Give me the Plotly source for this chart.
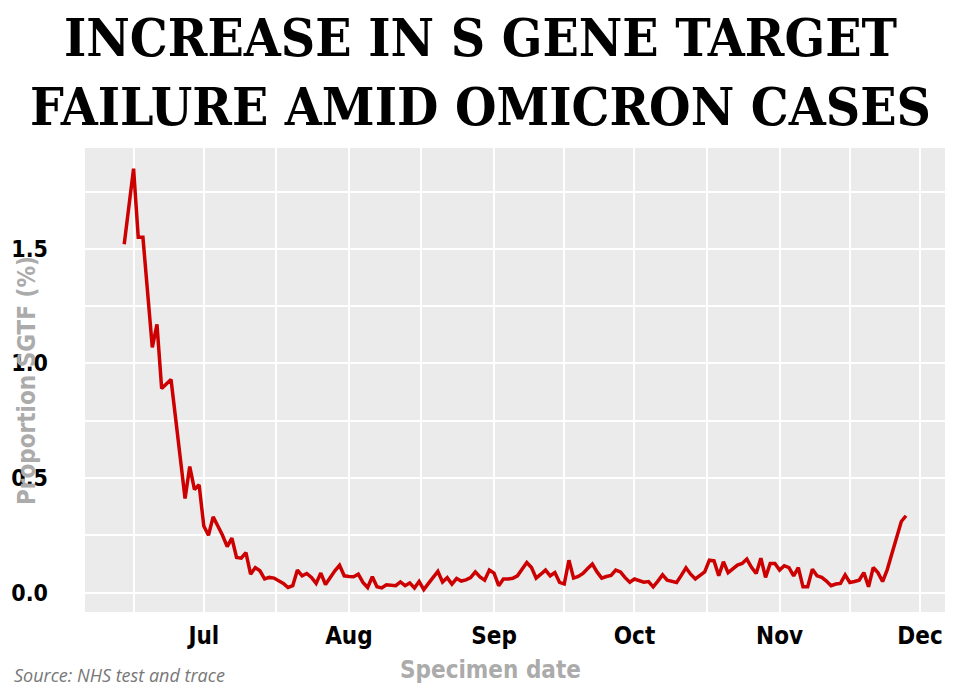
import plotly.graph_objects as go
import pandas as pd

start_date = "2021-06-14"
sgtf_pct = [
    1.52, 1.69, 1.85, 1.55, 1.55, 1.31, 1.07, 1.17, 0.89, 0.91,
    0.93, 0.757, 0.583, 0.41, 0.55, 0.45, 0.47, 0.29, 0.25, 0.33,
    0.29, 0.25, 0.20, 0.237, 0.153, 0.15, 0.174, 0.08, 0.109, 0.095,
    0.059, 0.066, 0.063, 0.05, 0.04, 0.022, 0.03, 0.098, 0.073, 0.083,
    0.066, 0.04, 0.085, 0.035, 0.068, 0.095, 0.119, 0.073, 0.07, 0.069,
    0.08, 0.044, 0.022, 0.069, 0.025, 0.02, 0.034, 0.032, 0.03, 0.046,
    0.03, 0.042, 0.02, 0.048, 0.013, 0.04, 0.065, 0.092, 0.046, 0.065,
    0.037, 0.061, 0.05, 0.055, 0.065, 0.09, 0.068, 0.054, 0.098, 0.085,
    0.03, 0.059, 0.059, 0.062, 0.073, 0.10, 0.131, 0.109, 0.063, 0.08,
    0.098, 0.073, 0.087, 0.044, 0.037, 0.141, 0.063, 0.07, 0.083, 0.105,
    0.124, 0.09, 0.063, 0.07, 0.075, 0.098, 0.09, 0.065, 0.045, 0.059,
    0.052, 0.045, 0.048, 0.025, 0.05, 0.077, 0.054, 0.05, 0.044, 0.075,
    0.108, 0.08, 0.059, 0.075, 0.09, 0.141, 0.138, 0.073, 0.134, 0.087,
    0.105, 0.12, 0.127, 0.146, 0.11, 0.083, 0.15, 0.066, 0.127, 0.127,
    0.098, 0.117, 0.109, 0.073, 0.109, 0.025, 0.025, 0.102, 0.073, 0.066,
    0.05, 0.03, 0.037, 0.04, 0.077, 0.044, 0.048, 0.054, 0.087, 0.025,
    0.109, 0.087, 0.048, 0.10, 0.17, 0.24, 0.31, 0.335,
]
dates = pd.date_range(start_date, periods=len(sgtf_pct), freq="D")

x_tick_vals = ["2021-07-01", "2021-08-01", "2021-09-01", "2021-10-01", "2021-11-01", "2021-12-01"]
x_tick_text = ["Jul", "Aug", "Sep", "Oct", "Nov", "Dec"]
x_minor_vals = ["2021-06-16", "2021-07-16 12:00", "2021-08-16 12:00", "2021-09-16",
                "2021-10-16 12:00", "2021-11-16"]
y_tick_vals = [0, 0.5, 1.0, 1.5]
y_tick_text = ["0.0", "0.5", "1.0", "1.5"]
y_minor_vals = [0.25, 0.75, 1.25, 1.75]

title_lines = ["INCREASE IN S GENE TARGET", "FAILURE AMID OMICRON CASES"]
x_title = "Specimen date"
y_title = "Proportion SGTF (%)"
source = "Source: NHS test and trace"

NARROW = "Liberation Sans Narrow, DejaVu Sans Condensed, Roboto, sans-serif"
TITLE_FONT = "DejaVu Serif Condensed, DejaVu Serif, serif"

fig = go.Figure()
fig.add_trace(go.Scatter(
    x=dates, y=sgtf_pct, mode="lines",
    line=dict(color="#CC0000", width=3.5),
    hoverinfo="skip", showlegend=False,
))

L, R, T, B = 85, 15, 148, 79
W, H = 960, 691
pw, ph = W - L - R, H - T - B

def px(xp):
    return (xp - L) / pw

def py(yp):
    return (H - B - yp) / ph

fig.update_layout(
    width=W, height=H,
    margin=dict(l=L, r=R, t=T, b=B, autoexpand=False),
    paper_bgcolor="white",
    plot_bgcolor="#EBEBEB",
    xaxis=dict(
        type="date", automargin=False,
        range=["2021-06-05 15:00", "2021-12-06 08:00"],
        tickmode="array", tickvals=x_tick_vals, ticktext=x_tick_text,
        showgrid=True, gridcolor="white", gridwidth=2,
        minor=dict(tickvals=x_minor_vals, showgrid=True, gridcolor="white", gridwidth=2),
        zeroline=False, showline=False, ticks="",
        ticklabelstandoff=7,
        tickfont=dict(family=NARROW, size=24, color="black", weight="bold"),
    ),
    yaxis=dict(
        automargin=False,
        range=[-0.085, 1.94],
        tickmode="array", tickvals=y_tick_vals, ticktext=y_tick_text,
        showgrid=True, gridcolor="white", gridwidth=2,
        minor=dict(tickvals=y_minor_vals, showgrid=True, gridcolor="white", gridwidth=2),
        zeroline=False, showline=False, ticks="",
        ticklabelstandoff=36,
        tickfont=dict(family=NARROW, size=23, color="black", weight="bold"),
    ),
    annotations=[
        dict(text="<br>".join(title_lines), xref="paper", yref="paper", x=px(480), y=py(71),
             xanchor="center", yanchor="middle", showarrow=False, align="center",
             font=dict(family=TITLE_FONT, size=53, color="black", weight="bold")),
        dict(text=y_title, xref="paper", yref="paper", x=px(27), y=py(381),
             xanchor="center", yanchor="middle", showarrow=False, textangle=-90,
             font=dict(family=NARROW, size=24, color="#ABABAB", weight="bold")),
        dict(text=x_title, xref="paper", yref="paper", x=px(490), y=py(670),
             xanchor="center", yanchor="middle", showarrow=False,
             font=dict(family=NARROW, size=24, color="#ABABAB", weight="bold")),
        dict(text=source, xref="paper", yref="paper", x=px(12), y=py(675),
             xanchor="left", yanchor="middle", showarrow=False,
             font=dict(family="Open Sans, sans-serif", size=18, color="#777777", style="italic")),
    ],
)

fig.write_html("out.html")
